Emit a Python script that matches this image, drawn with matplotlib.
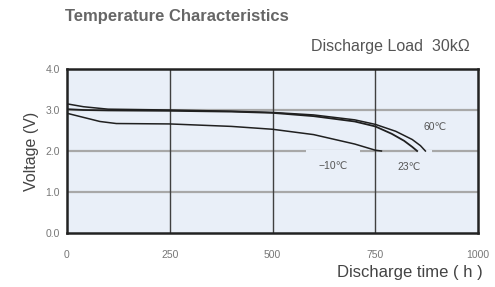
import matplotlib
matplotlib.use("Agg")
import matplotlib.pyplot as plt
import numpy as np

plt.rcParams['font.family'] = ['Liberation Sans', 'DejaVu Sans']

# Discharge curves (hours, volts)
t_60 = [0, 40, 100, 250, 400, 500, 600, 700, 750, 800, 840, 860, 872]
v_60 = [3.15, 3.08, 3.02, 3.0, 2.97, 2.94, 2.88, 2.76, 2.65, 2.48, 2.28, 2.13, 2.0]

t_23 = [0, 40, 100, 250, 400, 500, 600, 700, 750, 790, 820, 840, 852]
v_23 = [3.02, 3.0, 2.99, 2.98, 2.96, 2.93, 2.85, 2.72, 2.6, 2.42, 2.25, 2.1, 2.0]

t_m10 = [0, 40, 80, 120, 250, 400, 500, 600, 700, 750, 765]
v_m10 = [2.92, 2.82, 2.72, 2.67, 2.66, 2.6, 2.53, 2.4, 2.17, 2.02, 2.0]

x_ticks = [0, 250, 500, 750, 1000]
y_ticks = [0.0, 1.0, 2.0, 3.0, 4.0]

fig = plt.figure(figsize=(4.95, 2.87), dpi=100)
ax = fig.add_axes([67/495, 1-233/287, 411/495, 164/287])
ax.set_facecolor('#e9eff8')

# grid
for yv in [1.0, 2.0, 3.0]:
    ax.axhline(yv, color='#a8a8a8', lw=1.6, zorder=1)
for xv in [250, 500, 750]:
    ax.axvline(xv, color='#404040', lw=1.0, zorder=1)

# label background patches on the 2.0 gridline
for x0, x1 in [(585, 708), (853, 882)]:
    ax.plot([x0, x1], [2.0, 2.0], color='#e9eff8', lw=2.2, zorder=1.5)

ax.plot(t_60, v_60, color='#202020', lw=1.1, zorder=3)
ax.plot(t_23, v_23, color='#202020', lw=1.3, zorder=3)
ax.plot(t_m10, v_m10, color='#202020', lw=1.1, zorder=3)

ax.text(895, 2.58, '60℃', fontsize=7.5, color='#555555', ha='center', va='center')
ax.text(832, 1.62, '23℃', fontsize=7.5, color='#555555', ha='center', va='center')
ax.text(647, 1.64, '−10℃', fontsize=7.5, color='#555555', ha='center', va='center')

ax.set_xlim(0, 1000)
ax.set_ylim(0, 4)
ax.set_xticks(x_ticks)
ax.set_yticks(y_ticks)
ax.set_xticklabels([str(v) for v in x_ticks])
ax.set_yticklabels(['%.1f' % v for v in y_ticks])
ax.tick_params(length=0, labelsize=7.5, colors='#777777')
ax.tick_params(axis='x', pad=12)
ax.tick_params(axis='y', pad=5)
for s in ax.spines.values():
    s.set_color('#222222')
    s.set_linewidth(1.8)

ax.set_ylabel('Voltage (V)', fontsize=11.5, color='#444444', labelpad=5)

fig.text(65/495, 1-17/287, 'Temperature Characteristics', fontsize=12, fontweight='bold',
         color='#666666', ha='left', va='center')
fig.text(470/495, 1-47/287, 'Discharge Load  30kΩ', fontsize=11.5, color='#555555',
         ha='right', va='center')
fig.text(483/495, 1-272/287, 'Discharge time ( h )', fontsize=12, color='#444444',
         ha='right', va='center')

fig.savefig('out.png', dpi=100)
